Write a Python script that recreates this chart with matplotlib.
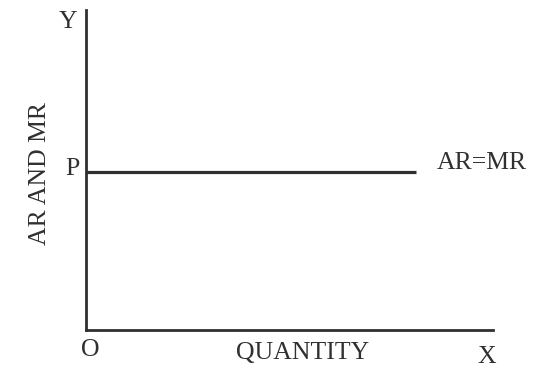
import matplotlib
matplotlib.use("Agg")
import matplotlib.pyplot as plt

# data: perfectly elastic demand, AR = MR at price P
quantity = [0, 8.1]
ar_mr = [4.94, 4.94]
price_label = "P"
curve_label = "AR=MR"
x_label = "QUANTITY"
y_label = "AR AND MR"

plt.rcParams["font.family"] = ["Liberation Serif", "DejaVu Serif"]
ink = "#303030"

fig = plt.figure(figsize=(5.35, 3.68), dpi=100)
ax = fig.add_axes([86 / 535, 38 / 368, 407 / 535, 320 / 368])
ax.set_xlim(0, 10)
ax.set_ylim(0, 10)

ax.plot(quantity, ar_mr, color=ink, lw=2.3, solid_capstyle="butt")

for s in ["top", "right"]:
    ax.spines[s].set_visible(False)
for s in ["left", "bottom"]:
    ax.spines[s].set_color(ink)
    ax.spines[s].set_linewidth(2.0)
ax.set_xticks([])
ax.set_yticks([])

fs = 18.5
ax.text(-0.44, 9.63, "Y", ha="center", va="center", fontsize=fs, color=ink, clip_on=False)
ax.text(-0.34, ar_mr[0] + 0.1, price_label, ha="center", va="center", fontsize=fs, color=ink, clip_on=False)
ax.text(0.1, -0.63, "O", ha="center", va="center", fontsize=fs, color=ink, clip_on=False)
ax.text(9.85, -0.84, "X", ha="center", va="center", fontsize=fs, color=ink, clip_on=False)
ax.text(5.31, -0.72, x_label, ha="center", va="center", fontsize=fs, color=ink, clip_on=False)
ax.text(8.62, ar_mr[0] + 0.28, curve_label, ha="left", va="center", fontsize=fs, color=ink, clip_on=False)
ax.text(-1.13, 4.88, y_label, ha="center", va="center", rotation=90, fontsize=fs, color=ink, clip_on=False)

fig.savefig("out.png", dpi=100)
